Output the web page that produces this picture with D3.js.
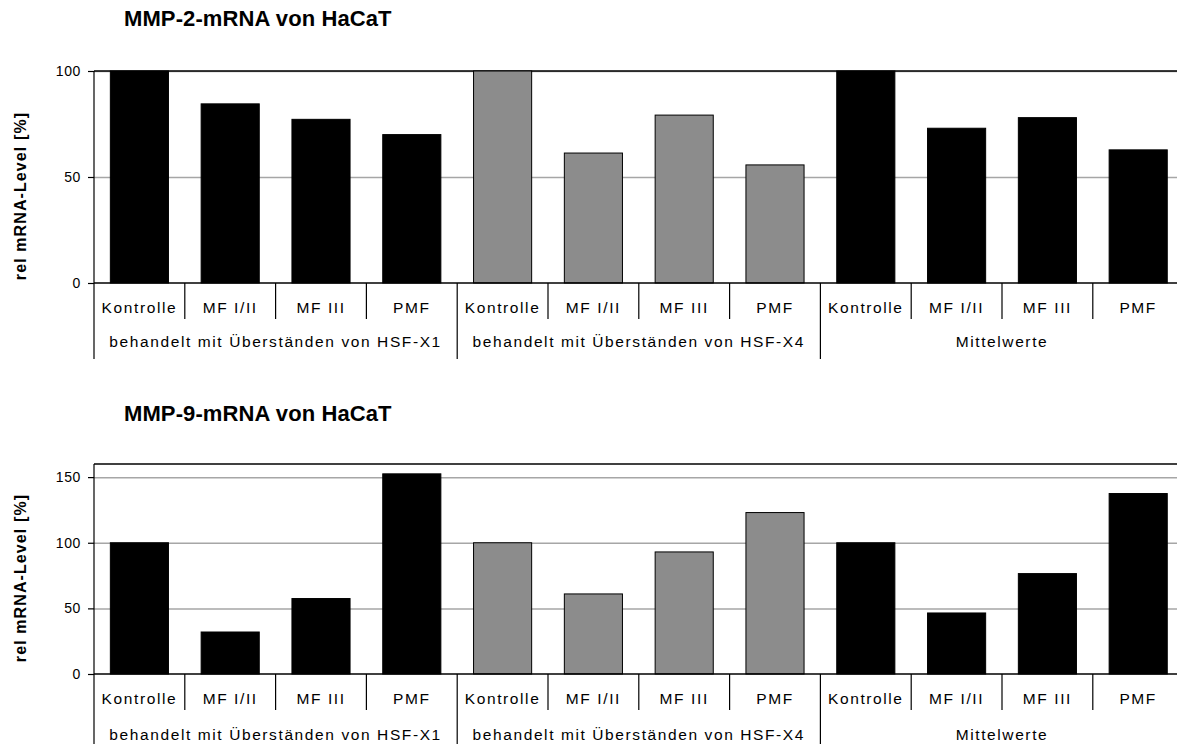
<!DOCTYPE html>
<html>
<head>
<meta charset="utf-8">
<script src="https://cdn.jsdelivr.net/npm/d3@7"></script>
<style>
  html, body { margin: 0; padding: 0; background: #fff; }
  svg { display: block; font-family: "Liberation Sans", Arial, sans-serif; }
</style>
</head>
<body>
<svg id="chart" width="1177" height="744"></svg>
<script>
// ---- data ----
const categories = ["Kontrolle", "MF I/II", "MF III", "PMF"];
const groups = ["behandelt mit Überständen von HSF-X1", "behandelt mit Überständen von HSF-X4", "Mittelwerte"];
const groupColors = ["#000000", "#8c8c8c", "#000000"];

const mmp2Title = "MMP-2-mRNA von HaCaT";
const mmp2X1 = [100, 84.5, 77.2, 70.0];
const mmp2X4 = [100, 61.3, 79.2, 55.7];
const mmp2Mean = [100, 73.0, 78.0, 62.8];
const mmp2Ticks = [0, 50, 100];

const mmp9Title = "MMP-9-mRNA von HaCaT";
const mmp9X1 = [100, 32.0, 57.5, 152.5];
const mmp9X4 = [100, 61.0, 93.0, 123.0];
const mmp9Mean = [100, 46.5, 76.5, 137.5];
const mmp9Ticks = [0, 50, 100, 150];

const yLabel = "rel mRNA-Level [%]";

// ---- drawing ----
const svg = d3.select("#chart");
const xLeft = 94, xRight = 1183.6;

function drawPanel(opt) {
  const g = svg.append("g");
  const rows = [];
  [opt.x1, opt.x4, opt.mean].forEach((vals, gi) => {
    vals.forEach((v, ci) => rows.push({ key: gi + "-" + ci, group: gi, cat: categories[ci], value: v }));
  });

  const x = d3.scaleBand().domain(rows.map(d => d.key)).range([xLeft, xRight]).padding(0);
  const y = d3.scaleLinear().domain([0, opt.yMax]).range([opt.y0, opt.yTop]);
  const bw = x.bandwidth() * 0.64;

  // title
  g.append("text")
    .attr("x", 124).attr("y", opt.titleY)
    .attr("font-size", 22).attr("font-weight", "bold")
    .attr("letter-spacing", "0.1px")
    .attr("fill", "#000")
    .text(opt.title);

  // gridlines
  g.append("g")
    .attr("transform", `translate(${xLeft},0)`)
    .call(d3.axisLeft(y).tickValues(opt.ticks.filter(t => t > 0)).tickSize(-(xRight - xLeft)).tickFormat(""))
    .call(s => s.select(".domain").remove())
    .call(s => s.selectAll("line").attr("stroke", "#a6a6a6").attr("stroke-width", 1.5));

  // top border
  g.append("line")
    .attr("x1", xLeft).attr("x2", xRight)
    .attr("y1", y(opt.yMax)).attr("y2", y(opt.yMax))
    .attr("stroke", "#000").attr("stroke-width", 1.5);

  // bars
  g.append("g").selectAll("rect").data(rows).join("rect")
    .attr("x", d => x(d.key) + (x.bandwidth() - bw) / 2)
    .attr("width", bw)
    .attr("y", d => y(d.value))
    .attr("height", d => y(0) - y(d.value))
    .attr("fill", d => groupColors[d.group])
    .attr("stroke", "#000").attr("stroke-width", 1);

  // y axis
  g.append("g")
    .attr("transform", `translate(${xLeft},0)`)
    .call(d3.axisLeft(y).tickValues(opt.ticks).tickSize(6).tickPadding(7).tickFormat(d3.format("d")))
    .call(s => s.select(".domain").remove())
    .call(s => s.selectAll("line").attr("stroke", "#000").attr("stroke-width", 1.2))
    .call(s => s.selectAll("text").attr("font-size", 14).attr("fill", "#000")
      .attr("font-family", "\"Liberation Sans\", Arial, sans-serif").attr("letter-spacing", "0.6px"));

  // axis line (left, extends through label area)
  g.append("line")
    .attr("x1", xLeft).attr("x2", xLeft)
    .attr("y1", y(opt.yMax)).attr("y2", opt.y0 + 76)
    .attr("stroke", "#000").attr("stroke-width", 1.2);

  // baseline
  g.append("line")
    .attr("x1", xLeft).attr("x2", xRight)
    .attr("y1", y(0)).attr("y2", y(0))
    .attr("stroke", "#000").attr("stroke-width", 1.5);

  // category separators and labels
  const sep = g.append("g");
  rows.forEach((d, i) => {
    const xs = x(d.key) + x.bandwidth();
    const isGroupEnd = (i % categories.length) === categories.length - 1;
    sep.append("line")
      .attr("x1", xs).attr("x2", xs)
      .attr("y1", y(0)).attr("y2", y(0) + (isGroupEnd ? 76 : 36))
      .attr("stroke", "#000").attr("stroke-width", 1.2);
  });
  g.append("g").selectAll("text.cat").data(rows).join("text")
    .attr("class", "cat")
    .attr("x", d => x(d.key) + x.bandwidth() / 2)
    .attr("y", y(0) + 30)
    .attr("text-anchor", "middle")
    .attr("font-size", 15.5).attr("letter-spacing", "1.6px")
    .attr("fill", "#000")
    .text(d => d.cat);

  // group labels
  g.append("g").selectAll("text.grp").data(groups).join("text")
    .attr("class", "grp")
    .attr("x", (d, gi) => {
      const a = x(gi + "-0"), b = x(gi + "-" + (categories.length - 1)) + x.bandwidth();
      return (a + b) / 2;
    })
    .attr("y", y(0) + opt.groupDy)
    .attr("text-anchor", "middle")
    .attr("font-size", 15.5).attr("letter-spacing", "1.6px")
    .attr("fill", "#000")
    .text(d => d);

  // y label
  g.append("text")
    .attr("transform", `translate(26,${opt.yLabelC}) rotate(-90)`)
    .attr("text-anchor", "middle")
    .attr("font-size", 16).attr("font-weight", "bold")
    .attr("letter-spacing", "1.1px")
    .attr("fill", "#000")
    .text(yLabel);
}

drawPanel({ title: mmp2Title, x1: mmp2X1, x4: mmp2X4, mean: mmp2Mean, ticks: mmp2Ticks,
  yMax: 100, y0: 283, yTop: 71, titleY: 26, groupDy: 64, yLabelC: 196 });
drawPanel({ title: mmp9Title, x1: mmp9X1, x4: mmp9X4, mean: mmp9Mean, ticks: mmp9Ticks,
  yMax: 160, y0: 674, yTop: 464, titleY: 421, groupDy: 66, yLabelC: 578 });
</script>
</body>
</html>
